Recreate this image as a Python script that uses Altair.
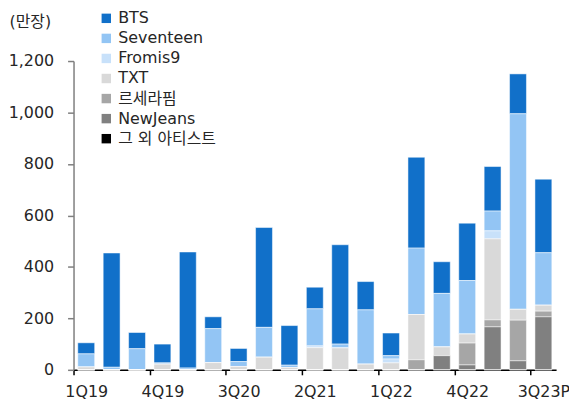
import altair as alt
import pandas as pd

quarters = ["1Q19", "2Q19", "3Q19", "4Q19", "1Q20", "2Q20", "3Q20", "4Q20", "1Q21", "2Q21",
            "3Q21", "4Q21", "1Q22", "2Q22", "3Q22", "4Q22", "1Q23", "2Q23", "3Q23P"]
tick_labels = ["1Q19", "4Q19", "3Q20", "2Q21", "1Q22", "4Q22", "3Q23P"]

bts = [43, 444, 63, 73, 451, 46, 51, 388, 154, 84, 386, 110, 88, 353, 123, 223, 173, 155, 286]
seventeen = [51, 10, 82, 5, 7, 132, 19, 116, 9, 144, 15, 211, 13, 258, 208, 208, 77, 760, 204]
fromis9 = [0, 0, 0, 0, 0, 0, 0, 0, 0, 7, 0, 0, 15, 0, 0, 0, 31, 0, 0]
txt = [11, 0, 0, 22, 0, 28, 13, 49, 9, 86, 85, 22, 27, 176, 34, 35, 315, 42, 23]
lesserafim = [0, 0, 0, 0, 0, 0, 0, 0, 0, 0, 0, 0, 0, 39, 0, 85, 27, 158, 22]
newjeans = [0, 0, 0, 0, 0, 0, 0, 0, 0, 0, 0, 0, 0, 0, 55, 19, 167, 35, 206]
others = [0] * 19

series_names = ["BTS", "Seventeen", "Fromis9", "TXT", "르세라핌", "NewJeans", "그 외 아티스트"]
series_values = [bts, seventeen, fromis9, txt, lesserafim, newjeans, others]
series_colors = ["#1170c9", "#93c5f4", "#c8e1fa", "#d9d9d9", "#a6a6a6", "#808080", "#000000"]

rows = []
for si, (name, vals) in enumerate(zip(series_names, series_values)):
    for q, v in zip(quarters, vals):
        rows.append({"quarter": q, "series": name, "value": v,
                     "stack": len(series_names) - si})
df = pd.DataFrame(rows)

FONT = "DejaVu Sans, Noto Sans CJK KR"
step = 486 / 19
pin = 0.335
toff = -pin * step / 2

chart = alt.Chart(df).mark_bar(stroke="white", strokeWidth=0.5).encode(
    x=alt.X("quarter:N", sort=quarters, title=None,
            scale=alt.Scale(paddingInner=pin, paddingOuter=pin / 2),
            axis=alt.Axis(values=tick_labels, labelAngle=0, bandPosition=0,
                          tickOffset=toff, labelOffset=-toff,
                          domainColor="#000000", domainWidth=1.5,
                          tickColor="#000000", tickWidth=1.5, tickSize=5,
                          labelFont=FONT, labelFontSize=16, labelColor="#262626",
                          labelPadding=9)),
    y=alt.Y("value:Q", stack="zero",
            scale=alt.Scale(domain=[0, 1200], nice=False),
            axis=alt.Axis(values=[0, 200, 400, 600, 800, 1000, 1200], format=",.0f",
                          grid=False, domainColor="#7f7f7f", domainWidth=1.5,
                          tickColor="#7f7f7f", tickWidth=1.5, tickSize=6,
                          labelFont=FONT, labelFontSize=16, labelColor="#262626",
                          labelPadding=14,
                          title="(만장)", titleAngle=0, titleX=-65, titleY=-40,
                          titleAlign="left", titleBaseline="middle",
                          titleFont=FONT, titleFontSize=16, titleFontWeight="normal",
                          titleColor="#262626")),
    color=alt.Color("series:N", sort=series_names,
                    scale=alt.Scale(domain=series_names, range=series_colors),
                    legend=alt.Legend(title=None, orient="none", legendX=25, legendY=-51,
                                      symbolType="square", symbolSize=90,
                                      symbolStrokeWidth=0, labelFont=FONT,
                                      labelFontSize=16, labelColor="#262626",
                                      rowPadding=4.2, labelOffset=4, padding=0)),
    order=alt.Order("stack:Q", sort="ascending"),
).properties(
    width=486, height=311,
    autosize=alt.AutoSizeParams(type="none"),
    padding={"left": 66, "top": 52, "right": 13, "bottom": 32},
).configure_view(stroke=None)

chart.save("out.html", embed_options={"renderer": "svg", "actions": False})
